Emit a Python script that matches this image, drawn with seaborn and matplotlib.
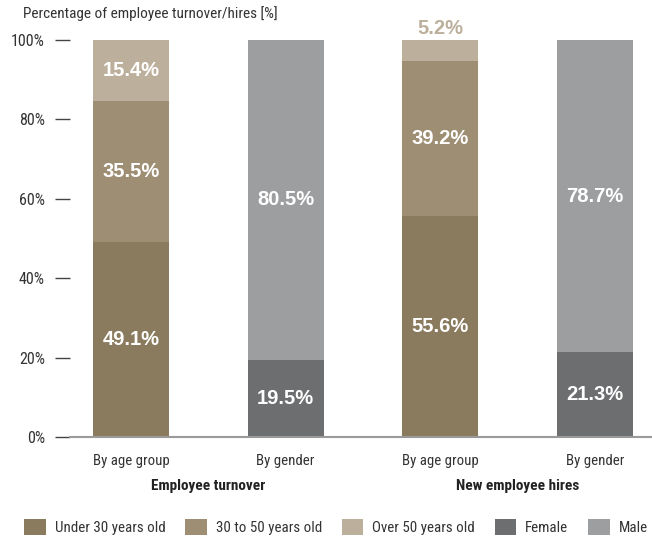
import matplotlib
matplotlib.use("Agg")
import matplotlib.pyplot as plt
from matplotlib.patches import Patch
import seaborn as sns
import pandas as pd
import logging

logging.getLogger("matplotlib.font_manager").setLevel(logging.ERROR)

# ---- data ----
bar_keys = ["turnover_age", "turnover_gender", "hires_age", "hires_gender"]
bar_labels = ["By age group", "By gender", "By age group", "By gender"]
group_labels = ["Employee turnover", "New employee hires"]

segments = ["Under 30 years old", "30 to 50 years old", "Over 50 years old", "Female", "Male"]
seg_colors = ["#8a7b5e", "#9e8f74", "#bcb09d", "#6d6e70", "#9d9ea0"]

turnover_age = [49.1, 35.5, 15.4]      # under 30, 30-50, over 50
turnover_gender = [19.5, 80.5]         # female, male
hires_age = [55.6, 39.2, 5.2]
hires_gender = [21.3, 78.7]

yticks = [0, 20, 40, 60, 80, 100]

# ---- long table with stacked positions ----
rows = []
for key, vals, segs in [
    ("turnover_age", turnover_age, segments[:3]),
    ("turnover_gender", turnover_gender, segments[3:]),
    ("hires_age", hires_age, segments[:3]),
    ("hires_gender", hires_gender, segments[3:]),
]:
    base = 0.0
    for seg, v in zip(segs, vals):
        rows.append(dict(bar=key, segment=seg, value=v, bottom=base, top=base + v))
        base += v
df = pd.DataFrame(rows)

sns.set_theme(style="white")
NARROW = ["Roboto Condensed", "Archivo Narrow", "PT Sans Narrow",
          "Liberation Sans Narrow", "Liberation Sans", "DejaVu Sans"]
BOLD_LABEL = ["Liberation Sans", "DejaVu Sans"]
plt.rcParams["font.family"] = NARROW

fig = plt.figure(figsize=(6.52, 5.39), dpi=100)
ax = fig.add_axes([70 / 652, 1 - 437 / 539, 1 - 70 / 652, (437 - 40) / 539])

color_of = dict(zip(segments, seg_colors))
bar_w = 0.49

# draw cumulative tops, highest first, so lower segments sit on top
for seg in sorted(segments, key=lambda s: -df.loc[df.segment == s, "top"].max()):
    sub = df[df.segment == seg]
    sns.barplot(data=sub, x="bar", y="top", order=bar_keys, color=color_of[seg],
                width=bar_w, saturation=1, errorbar=None, ax=ax, linewidth=0)

# value labels
pos = {k: i for i, k in enumerate(bar_keys)}
for _, r in df.iterrows():
    x = pos[r.bar]
    if r.value < 10:
        ax.text(x, r.top + 3, f"{r.value:.1f}%", ha="center", va="center",
                color=color_of[r.segment], fontsize=14.5, fontweight="bold",
                family=BOLD_LABEL, clip_on=False)
    else:
        ax.text(x, (r.bottom + r.top) / 2, f"{r.value:.1f}%", ha="center", va="center",
                color="white", fontsize=14.5, fontweight="bold", family=BOLD_LABEL)

ax.set_xlim(-0.394, 3.368)
ax.set_ylim(0, 100)
ax.set_yticks(yticks)
ax.set_yticklabels([f"{t}%" for t in yticks], fontsize=11.5, color="#333333")
ax.tick_params(axis="y", left=True, length=11, width=1, color="#444444", pad=7)
ax.tick_params(axis="x", bottom=False, pad=6)
ax.set_xticks(range(len(bar_keys)))
ax.set_xticklabels(bar_labels, fontsize=10.7, color="#333333")
ax.set_xlabel("")
ax.set_ylabel("")
for s in ["left", "right", "top"]:
    ax.spines[s].set_visible(False)
ax.spines["bottom"].set_color("#9a9a9a")
ax.spines["bottom"].set_linewidth(1.5)

# group captions under the category labels
for gi, g in enumerate(group_labels):
    xc = 2 * gi + 0.5
    ax.text(xc, -12.4, g, ha="center", va="center", fontsize=11, fontweight="bold",
            color="#222222", clip_on=False)

fig.text(23 / 652, 1 - 14 / 539, "Percentage of employee turnover/hires [%]",
         ha="left", va="center", fontsize=11, color="#333333")

handles = [Patch(facecolor=c, edgecolor="none") for c in seg_colors]
fig.legend(handles, segments, loc="center left", bbox_to_anchor=(24 / 652, 1 - 527 / 539),
           ncol=5, frameon=False, fontsize=10.8, handlelength=1.45, handleheight=1.3,
           handletextpad=0.6, columnspacing=1.3, borderpad=0, borderaxespad=0,
           labelcolor="#333333")

fig.savefig("out.png", dpi=100)
